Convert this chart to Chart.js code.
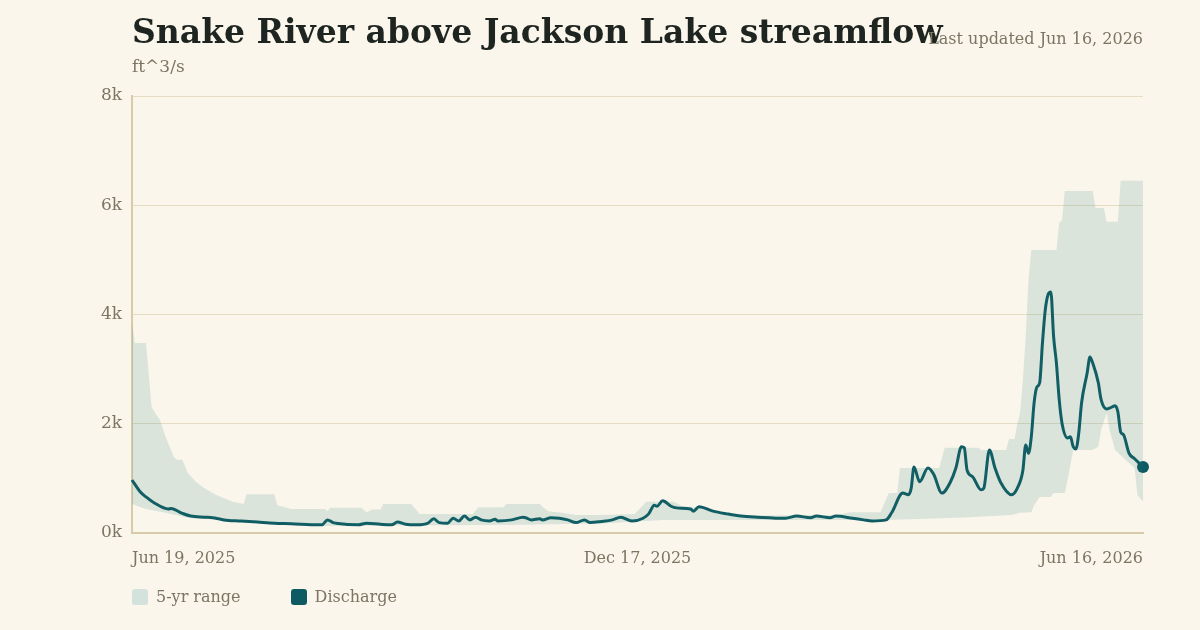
<!DOCTYPE html>
<html lang="en">
<head>
    <meta charset="UTF-8">
    <title>Snake River above Jackson Lake streamflow</title>
    <script src="https://cdn.jsdelivr.net/npm/chart.js"></script>
    <style>
        body {
            margin: 0;
            background: #faf6ec;
            font-family: Georgia, "DejaVu Serif", serif;
        }

        #frame {
            position: relative;
            width: 1200px;
            height: 630px;
            overflow: hidden;
        }

        #title {
            position: absolute;
            left: 132px;
            top: 12px;
            font-size: 33px;
            font-weight: bold;
            color: #1e2420;
            white-space: nowrap;
        }

        #units {
            position: absolute;
            left: 132px;
            top: 56px;
            font-size: 17px;
            color: #7b7562;
        }

        #updated {
            position: absolute;
            right: 57px;
            top: 29px;
            font-size: 16px;
            color: #7b7562;
        }

        #chart-box {
            position: absolute;
            left: 0;
            top: 0;
            width: 1200px;
            height: 630px;
        }

        #legend {
            position: absolute;
            left: 132px;
            top: 587px;
            display: flex;
            gap: 50px;
            font-size: 16px;
            color: #7b7562;
        }

        .key {
            display: flex;
            align-items: center;
            gap: 8px;
        }

        .swatch {
            width: 16px;
            height: 16px;
            border-radius: 3px;
        }
    </style>
</head>
<body>
    <div id="frame">
        <div id="chart-box"><canvas id="flow" width="1200" height="630"></canvas></div>
        <div id="title">Snake River above Jackson Lake streamflow</div>
        <div id="updated">Last updated Jun 16, 2026</div>
        <div id="units">ft^3/s</div>
        <div id="legend">
            <div class="key"><span class="swatch" style="background:#d3e2dc"></span>5-yr range</div>
            <div class="key"><span class="swatch" style="background:#0e5a62"></span>Discharge</div>
        </div>
    </div>

    <script>
        // days since Jun 19, 2025
        const xTickDays = [0, 181, 362];
        const xTickLabels = ['Jun 19, 2025', 'Dec 17, 2025', 'Jun 16, 2026'];
        const yTicks = [0, 2000, 4000, 6000, 8000];

        // 5-yr range, upper edge
        const highDays = [0, 1, 5, 7, 8, 10, 12, 15, 16, 18, 20, 23, 26, 30, 36, 40, 41, 51, 52, 57,
            69, 70, 71, 82, 84, 86, 89, 90, 100, 103, 122, 124, 133, 134, 146, 147, 149, 154, 159, 168,
            180, 183, 184, 194, 197, 204, 211, 219, 253, 257, 268, 271, 274, 275, 289, 291, 303, 304, 313, 314,
            316, 317, 318, 319, 320, 321, 322, 331, 332, 333, 334, 344, 345, 348, 349, 353, 354, 362];
        const highFlow = [3850, 3480, 3480, 2310, 2220, 2070, 1760, 1390, 1340, 1340, 1100, 930, 820, 700, 570, 530, 710, 710, 510, 440,
            440, 400, 460, 460, 380, 430, 430, 530, 530, 350, 350, 470, 470, 530, 530, 480, 400, 370, 330, 330,
            350, 510, 570, 570, 490, 460, 370, 320, 330, 380, 380, 730, 730, 1190, 1190, 1560, 1560, 1520, 1520, 1720,
            1720, 2000, 2200, 2800, 3600, 4630, 5180, 5180, 5680, 5720, 6260, 6260, 5950, 5950, 5700, 5700, 6450, 6450];

        // 5-yr range, lower edge
        const lowDays = [0, 5, 12, 21, 45, 69, 140, 170, 190, 270, 290, 300, 315, 318, 322, 323, 325, 329, 330, 334,
            335, 337, 344, 346, 347, 349, 350, 352, 357, 359, 360, 362];
        const lowFlow = [530, 440, 370, 270, 200, 130, 150, 180, 240, 240, 270, 290, 330, 370, 380, 510, 660, 660, 730, 730,
            970, 1520, 1520, 1580, 1890, 2200, 1890, 1520, 1280, 1190, 700, 570];

        // discharge
        const flowDays = [0, 3, 5, 8, 13, 14, 18, 21, 26, 29, 30, 33, 39, 45, 51, 57, 67, 68, 70, 72,
            73, 81, 84, 89, 93, 95, 98, 102, 106, 108, 110, 113, 115, 117, 119, 121, 123, 125, 128, 130,
            131, 136, 140, 141, 143, 146, 147, 150, 153, 156, 159, 162, 164, 168, 172, 175, 179, 183, 185, 187,
            188, 190, 193, 195, 200, 201, 203, 208, 213, 218, 224, 234, 238, 243, 245, 250, 252, 258, 262, 265,
            270, 272, 276, 278, 279, 280, 282, 285, 287, 290, 293, 295, 297, 298, 299, 301, 304, 305, 307, 309,
            311, 315, 317, 319, 320, 321, 322, 323, 324, 325, 326, 327, 328, 329, 330, 331, 332, 333, 335, 336,
            337, 338, 339, 340, 342, 343, 344, 346, 347, 349, 351, 352, 353, 354, 355, 357, 359, 362];
        const discharge = [970, 750, 660, 550, 440, 450, 360, 310, 290, 280, 270, 240, 220, 200, 180, 170, 150, 150, 240, 190,
            180, 150, 180, 160, 150, 200, 160, 150, 180, 260, 190, 180, 270, 220, 310, 240, 290, 240, 220, 250,
            220, 240, 290, 280, 240, 260, 240, 280, 270, 240, 190, 240, 190, 210, 240, 290, 220, 270, 350, 510,
            490, 590, 490, 460, 440, 400, 480, 400, 350, 310, 290, 270, 310, 280, 310, 280, 310, 270, 240, 220,
            240, 370, 730, 700, 820, 1210, 940, 1190, 1080, 730, 930, 1190, 1580, 1560, 1150, 1030, 790, 820, 1520, 1190,
            930, 700, 820, 1150, 1610, 1460, 1760, 2380, 2670, 2750, 3480, 4080, 4360, 4410, 3590, 3110, 2440, 2010, 1740, 1760,
            1580, 1540, 1830, 2380, 2930, 3220, 3110, 2750, 2440, 2270, 2310, 2330, 2220, 1850, 1800, 1460, 1360, 1210];

        const toPoints = (days, vals) => days.map((d, i) => ({ x: d, y: vals[i] }));

        const teal = '#0e5a62';
        const muted = '#7b7562';
        const lastIdx = discharge.length - 1;

        new Chart(document.getElementById('flow'), {
            type: 'line',
            data: {
                datasets: [
                    {
                        label: 'low',
                        data: toPoints(lowDays, lowFlow),
                        borderWidth: 0,
                        pointRadius: 0,
                        fill: false
                    },
                    {
                        label: '5-yr range',
                        data: toPoints(highDays, highFlow),
                        borderWidth: 0,
                        pointRadius: 0,
                        backgroundColor: 'rgba(40,130,120,0.15)',
                        fill: '-1'
                    },
                    {
                        label: 'Discharge',
                        data: toPoints(flowDays, discharge),
                        borderColor: teal,
                        backgroundColor: teal,
                        borderWidth: 3,
                        cubicInterpolationMode: 'monotone',
                        pointRadius: ctx => ctx.dataIndex === lastIdx ? 6 : 0,
                        pointBorderWidth: 0,
                        clip: 10,
                        fill: false
                    }
                ]
            },
            options: {
                responsive: false,
                animation: false,
                layout: { padding: { top: 96, right: 57, left: 0, bottom: 0 } },
                plugins: {
                    legend: { display: false },
                    tooltip: { enabled: false }
                },
                scales: {
                    x: {
                        type: 'linear',
                        min: 0,
                        max: 362,
                        afterBuildTicks: s => { s.ticks = xTickDays.map(v => ({ value: v })); },
                        afterFit: s => { s.height = 97; },
                        ticks: {
                            align: 'inner',
                            maxRotation: 0,
                            padding: 16,
                            color: muted,
                            font: { family: 'Georgia, "DejaVu Serif", serif', size: 16 },
                            callback: v => xTickLabels[xTickDays.indexOf(v)]
                        },
                        grid: { display: false, drawTicks: false },
                        border: { color: '#d8cba9', width: 2 }
                    },
                    y: {
                        min: 0,
                        max: 8000,
                        afterBuildTicks: s => { s.ticks = yTicks.map(v => ({ value: v })); },
                        afterFit: s => { s.width = 132; },
                        ticks: {
                            padding: 10,
                            color: muted,
                            font: { family: 'Georgia, "DejaVu Serif", serif', size: 17 },
                            callback: v => (v / 1000) + 'k'
                        },
                        grid: { color: '#e6dcc4', lineWidth: 1, drawTicks: false },
                        border: { color: '#d8cba9', width: 2 }
                    }
                }
            }
        });
    </script>
</body>
</html>
